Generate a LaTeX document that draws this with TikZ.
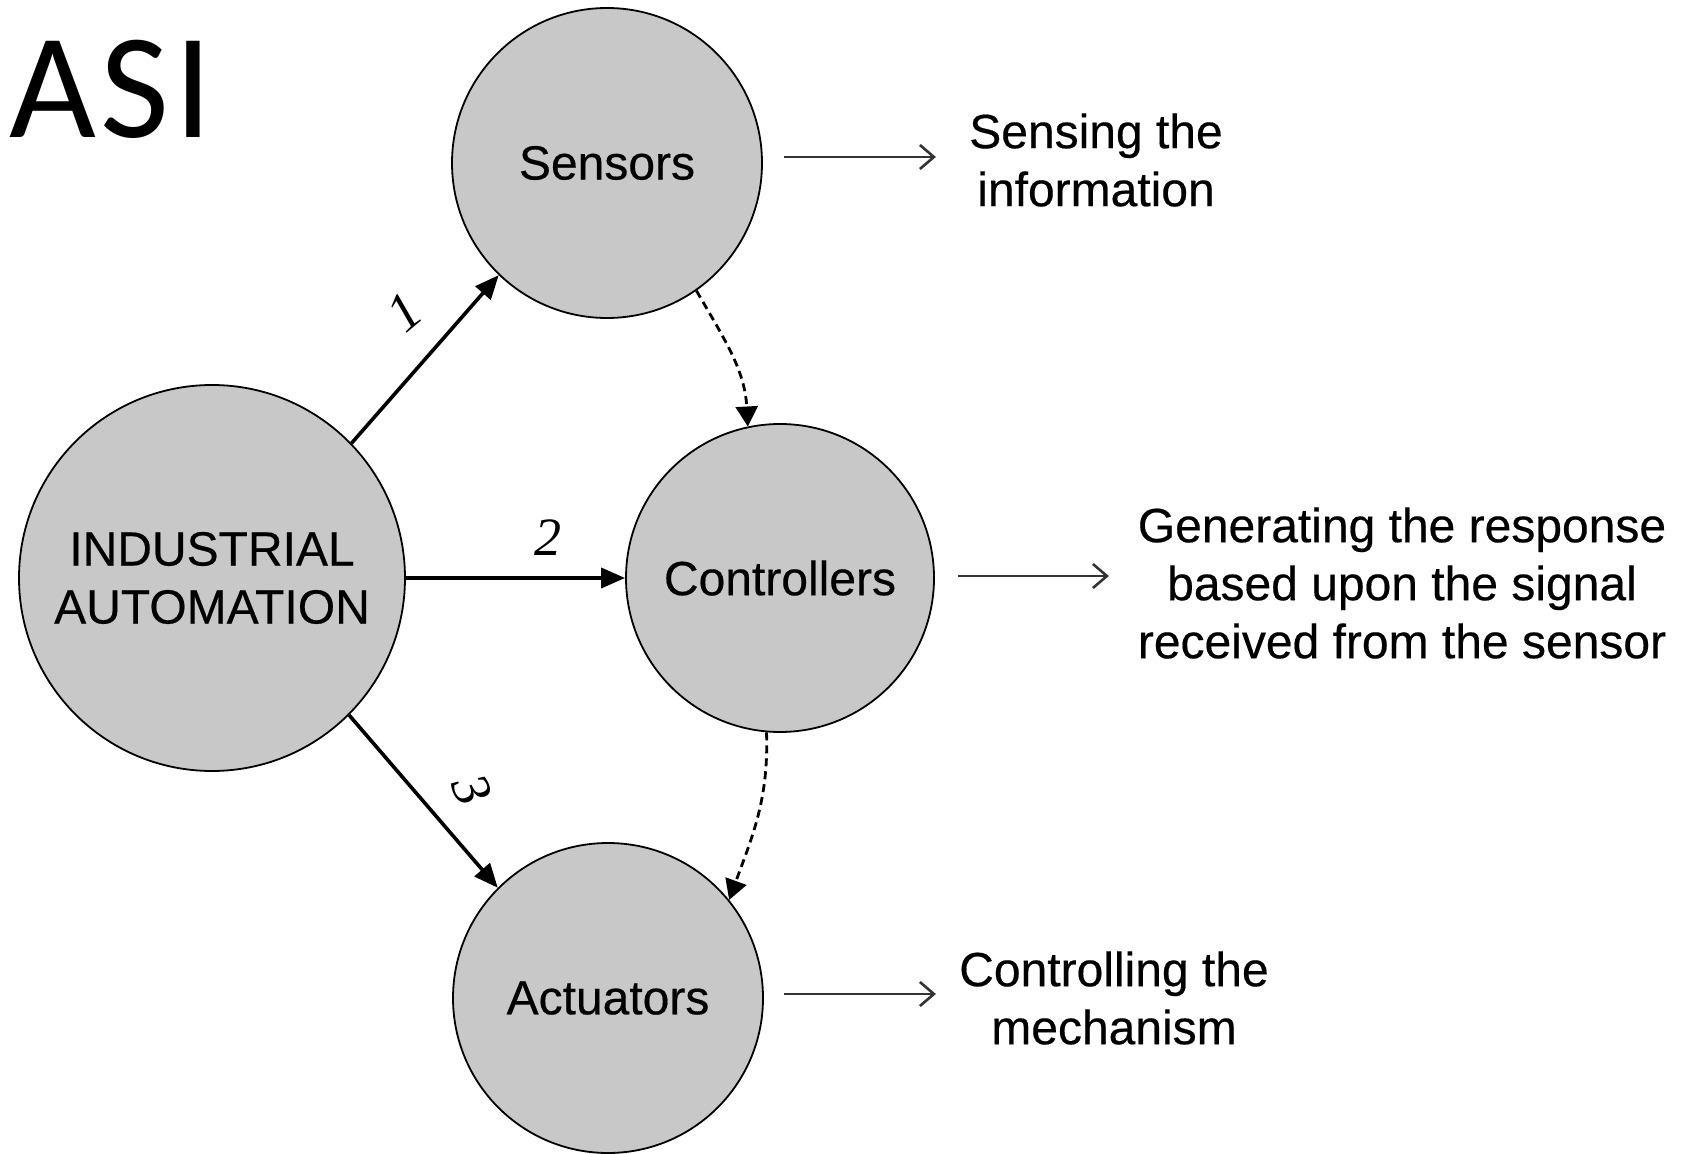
\documentclass[tikz,border=0pt]{standalone}
\usepackage{fontspec}
\setmainfont{Liberation Sans}[FakeBold=0.4]
\newfontfamily\asifont{Carlito}[LetterSpace=3]
\newfontfamily\numfont{Liberation Serif}
\usetikzlibrary{arrows.meta}
\definecolor{circfill}{RGB}{200,200,200}
\begin{document}
\begin{tikzpicture}[x=0.5pt,y=-0.5pt,
  circ/.style={circle, draw=black, line width=0.9pt, fill=circfill, inner sep=0pt,
    font=\fontsize{24}{29}\selectfont, align=center},
  mainarrow/.style={line width=1.8pt, -{Triangle[length=12pt,width=10pt]}},
  dasharrow/.style={line width=1.4pt, dash pattern=on 4pt off 2.5pt,
    -{Triangle[length=10pt,width=11pt]}},
  outarrow/.style={line width=1.3pt, draw=black!80, -{Straight Barb[length=7pt,width=12pt]}},
  desc/.style={font=\fontsize{24}{29}\selectfont, align=center, inner sep=0pt},
  num/.style={font=\numfont\itshape\fontsize{27}{27}\selectfont, inner sep=0pt}]

\useasboundingbox (0,0) rectangle (1690,1154);

\node[anchor=base west, inner sep=0pt, font=\asifont\fontsize{75}{75}\selectfont] (asi) at (9,138) {ASI};

\node[circ, minimum size=193pt] (ia) at (212,578) {INDUSTRIAL\\AUTOMATION};
\node[circ, minimum size=155pt] (sens) at (607,163) {Sensors};
\node[circ, minimum size=154pt] (ctrl) at (780,578) {Controllers};
\node[circ, minimum size=155pt] (act) at (608,998) {Actuators};

\node[desc] (d1) at (1096,160) {Sensing the\\information};
\node[desc] (d2) at (1402,583) {Generating the response\\based upon the signal\\received from the sensor};
\node[desc] (d3) at (1114,998) {Controlling the\\mechanism};

\draw[mainarrow] (ia.44) -- (sens.-134);
\draw[mainarrow] (ia.east) -- (ctrl.west);
\draw[mainarrow] (ia.-45) -- (act.135);

\node[num, rotate=40] (n1) at (404,312) {1};
\node[num] (n2) at (548,538) {2};
\node[num, rotate=-67] (n3) at (472,790) {3};

\draw[dasharrow] (sens.-55) to[out=-60, in=93] (ctrl.102);
\draw[dasharrow] (ctrl.-95) to[out=-88, in=70] (act.39);

\draw[outarrow] ([xshift=10.5pt,yshift=3pt]sens.east) -- ++(76pt,0);
\draw[outarrow] ([xshift=11.5pt,yshift=1pt]ctrl.east) -- ++(75.5pt,0);
\draw[outarrow] ([xshift=10pt,yshift=2pt]act.east) -- ++(76pt,0);
\end{tikzpicture}
\end{document}
